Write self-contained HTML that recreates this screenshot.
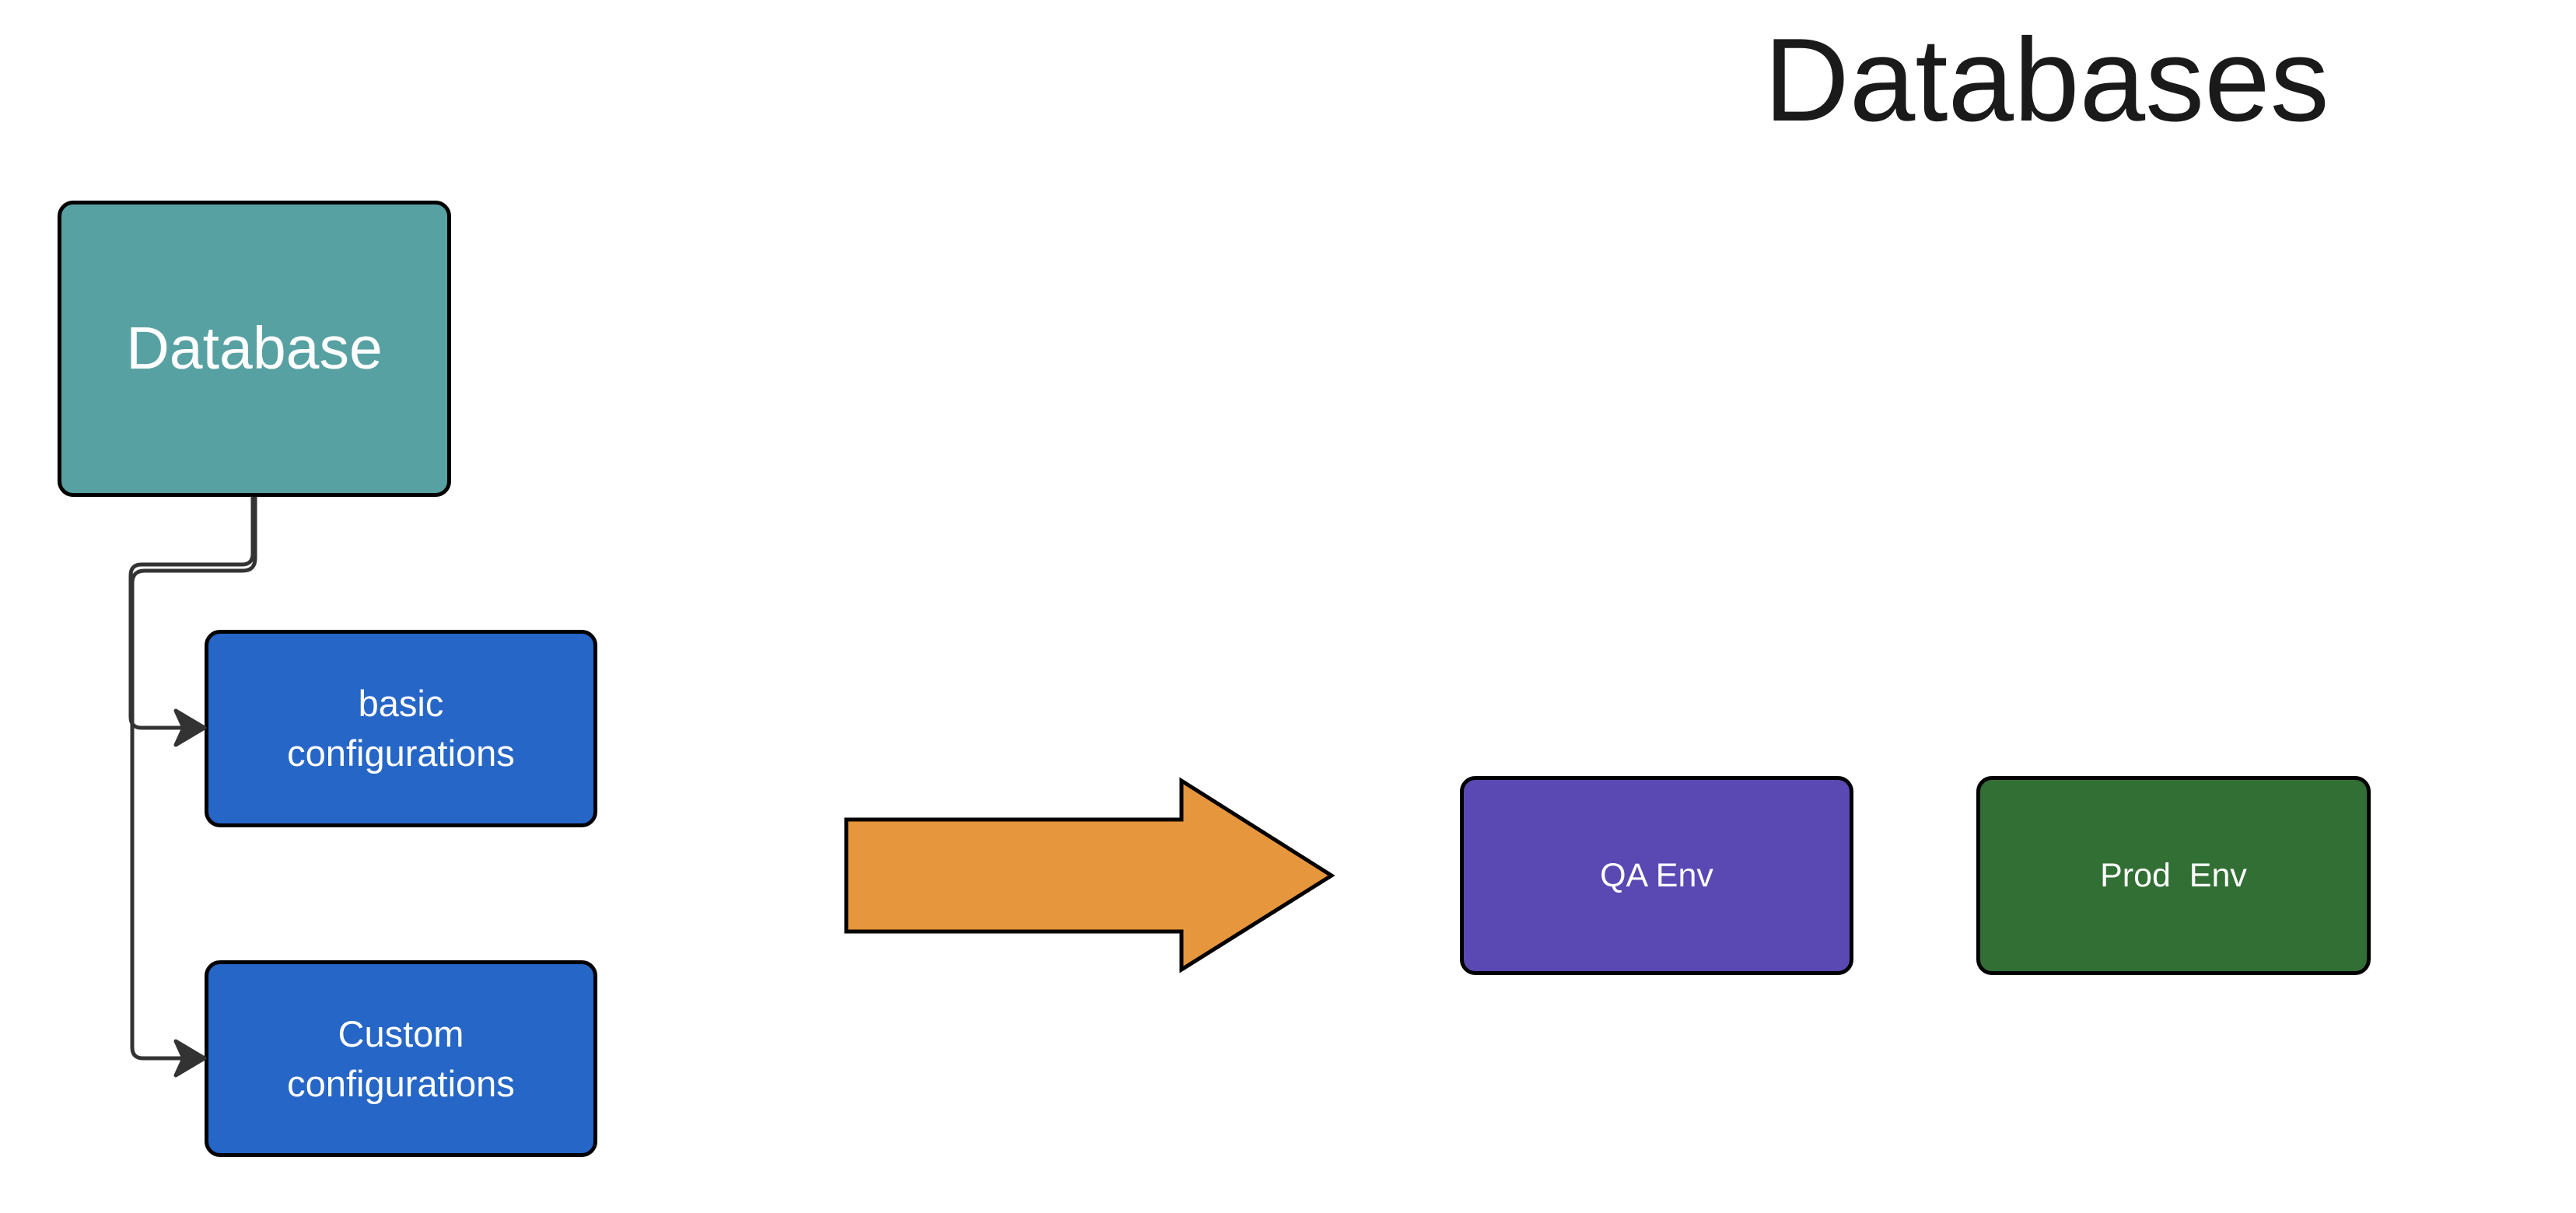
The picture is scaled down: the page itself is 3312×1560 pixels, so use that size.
<!DOCTYPE html>
<html><head><meta charset="utf-8"><style>
html,body{margin:0;padding:0;background:#fff;}
body{width:3312px;height:1560px;position:relative;overflow:hidden;font-family:"Liberation Sans",sans-serif;}
.b{position:absolute;box-sizing:border-box;border:5px solid #000;border-radius:20px;color:#fff;display:flex;align-items:center;justify-content:center;text-align:center;}
</style></head><body>
<div style="position:absolute;left:2268px;top:18px;font-size:152px;color:#1a1a1a;line-height:170px;">Databases</div>
<div class="b" style="left:74px;top:258px;width:506px;height:381px;background:#58a1a3;font-size:77px;">Database</div>
<div class="b" style="left:263px;top:810px;width:505px;height:254px;background:#2666c6;font-size:47px;line-height:64px;">basic<br>configurations</div>
<div class="b" style="left:263px;top:1235px;width:505px;height:253px;background:#2666c6;font-size:47px;line-height:64px;">Custom<br>configurations</div>
<div class="b" style="left:1877px;top:998px;width:506px;height:256px;background:#5a48b3;font-size:43px;">QA Env</div>
<div class="b" style="left:2541px;top:998px;width:507px;height:256px;background:#326f34;font-size:43px;">Prod&nbsp; Env</div>
<svg width="3312" height="1560" style="position:absolute;left:0;top:0">
<g fill="none" stroke="#333" stroke-width="5">
<path d="M325 639 V712 Q325 726 311 726 H182 Q168 726 168 740 V922 Q168 936 182 936 H240"/>
<path d="M328 639 V718 Q328 734 312 734 H186 Q170 734 170 750 V1347 Q170 1361 184 1361 H240"/>
</g>
<path d="M226 914 L263 936 L226 958 L236 936 Z" fill="#333" stroke="#333" stroke-width="5" stroke-linejoin="round"/>
<path d="M226 1339 L263 1361 L226 1383 L236 1361 Z" fill="#333" stroke="#333" stroke-width="5" stroke-linejoin="round"/>
<path d="M1088 1054 H1519 V1004 L1712 1126 L1519 1247 V1198 H1088 Z" fill="#e6963c" stroke="#000" stroke-width="5"/>
</svg>
</body></html>
